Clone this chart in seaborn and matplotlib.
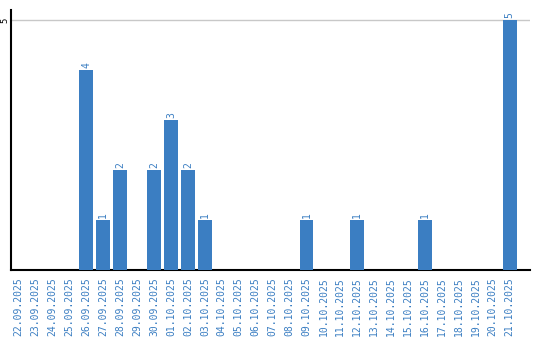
import matplotlib
matplotlib.use("Agg")
import matplotlib.pyplot as plt
import seaborn as sns
import pandas as pd

dates = ["22.09.2025", "23.09.2025", "24.09.2025", "25.09.2025", "26.09.2025",
         "27.09.2025", "28.09.2025", "29.09.2025", "30.09.2025", "01.10.2025",
         "02.10.2025", "03.10.2025", "04.10.2025", "05.10.2025", "06.10.2025",
         "07.10.2025", "08.10.2025", "09.10.2025", "10.10.2025", "11.10.2025",
         "12.10.2025", "13.10.2025", "14.10.2025", "15.10.2025", "16.10.2025",
         "17.10.2025", "18.10.2025", "19.10.2025", "20.10.2025", "21.10.2025"]
counts = [0, 0, 0, 0, 4, 1, 2, 0, 2, 3, 2, 1, 0, 0, 0, 0, 0, 1, 0, 0,
          1, 0, 0, 0, 1, 0, 0, 0, 0, 5]
yticks = [5]

blue = "#3b7ec2"
df = pd.DataFrame({"date": dates, "count": counts})

sns.set_style("white")
plt.rcParams["font.family"] = ["DejaVu Sans Mono", "DejaVu Sans"]

fig = plt.figure(figsize=(5.4, 3.4), dpi=100)
ax = fig.add_axes([11/540, 1 - 270/340, 519/540, 260/340])
sns.barplot(data=df, x="date", y="count", order=dates, color=blue,
            saturation=1, width=0.82, ax=ax, zorder=3, linewidth=0)

for p, v in zip(ax.patches, counts):
    if v > 0:
        ax.text(p.get_x() + p.get_width() / 2, v + 0.03, str(v),
                rotation=90, ha="center", va="bottom", color=blue, fontsize=7)
    else:
        p.set_visible(False)

ax.set_xlim(-0.45, 30.2)
ax.set_ylim(0, 5.2)
ax.set_yticks(yticks)
ax.set_yticklabels([str(t) for t in yticks], rotation=90, va="center",
                   fontsize=6.5, color="black")
ax.grid(axis="y", color="#c8c8c8", linewidth=1, zorder=0)
ax.tick_params(axis="x", rotation=90, labelsize=7, labelcolor=blue,
               length=0, pad=5)
ax.tick_params(axis="y", length=0, pad=1)
for lab in ax.get_xticklabels():
    lab.set_va("top")
ax.set_xlabel("")
ax.set_ylabel("")
for s in ["top", "right"]:
    ax.spines[s].set_visible(False)
ax.spines["left"].set_color("black")
ax.spines["bottom"].set_color("black")
ax.spines["left"].set_linewidth(1.5)
ax.spines["bottom"].set_linewidth(1.5)

fig.savefig("out.png", dpi=100)
